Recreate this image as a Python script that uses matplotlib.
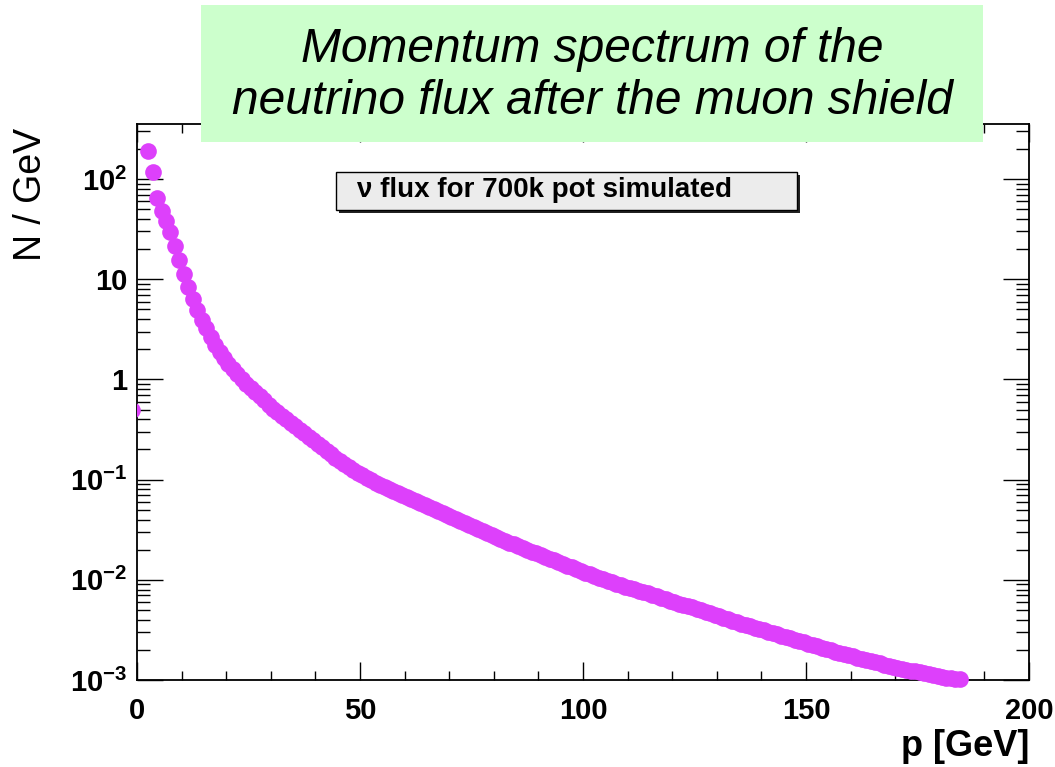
import numpy as np
import matplotlib
matplotlib.use("Agg")
import matplotlib.pyplot as plt
from matplotlib.patches import Rectangle
from matplotlib.ticker import MultipleLocator, LogLocator, FixedLocator, FixedFormatter, NullFormatter

plt.rcParams['font.family'] = ['Liberation Sans', 'DejaVu Sans']
plt.rcParams['mathtext.fontset'] = 'custom'
plt.rcParams['mathtext.rm'] = 'Liberation Sans:bold'
plt.rcParams['mathtext.it'] = 'Liberation Sans:bold'
plt.rcParams['mathtext.default'] = 'rm'

# ---------------------------------
# DATA
# ---------------------------------

# 1 GeV bins, first drawn bin centre at 2.5 GeV
p_first = 2.5
bin_width = 1.0

# log10(N / GeV) per bin, read on the log axis
log10_flux = [
    2.28, 2.07, 1.81, 1.68, 1.58, 1.47, 1.33, 1.19, 1.05, 0.92,
    0.80, 0.69, 0.59, 0.51, 0.42, 0.34, 0.27, 0.21, 0.15, 0.10,
    0.05, 0.00, -0.05, -0.09, -0.13, -0.17, -0.21, -0.25, -0.29, -0.325,
    -0.36, -0.395, -0.43, -0.465, -0.50, -0.535, -0.57, -0.605, -0.64, -0.675,
    -0.71, -0.745, -0.78, -0.815, -0.845, -0.875, -0.90, -0.93, -0.955, -0.98,
    -1.005, -1.03, -1.05, -1.07, -1.09, -1.11, -1.13, -1.15,
    -1.17, -1.19, -1.21, -1.23, -1.25, -1.27, -1.29, -1.31, -1.33, -1.35,
    -1.37, -1.39, -1.41, -1.43, -1.45, -1.47, -1.49, -1.51, -1.53, -1.55,
    -1.57, -1.59,
    -1.61, -1.63, -1.645, -1.665, -1.68, -1.70, -1.72, -1.735, -1.755, -1.77,
    -1.79, -1.805, -1.825, -1.84, -1.86, -1.875, -1.895, -1.91, -1.93, -1.945,
    -1.96, -1.98,
    -1.995, -2.01, -2.025, -2.04, -2.055, -2.07, -2.08, -2.095, -2.11, -2.12,
    -2.135, -2.15, -2.165, -2.18, -2.195, -2.21, -2.225, -2.24, -2.255, -2.265, -2.275,
    -2.29, -2.305, -2.32, -2.335, -2.35, -2.365, -2.38, -2.395, -2.41, -2.425, -2.44,
    -2.45, -2.465, -2.48, -2.49, -2.505, -2.52, -2.53, -2.545, -2.56, -2.57, -2.585,
    -2.60, -2.61, -2.625, -2.64, -2.65, -2.665, -2.68, -2.69, -2.705, -2.72, -2.73,
    -2.745, -2.755, -2.765, -2.78, -2.79, -2.80, -2.815, -2.825, -2.835, -2.85, -2.86,
    -2.87, -2.88, -2.89, -2.90, -2.91, -2.915, -2.925, -2.935, -2.945, -2.955,
    -2.965, -2.975, -2.98, -2.985, -2.99, -2.995,
]

# point cut by the left frame edge
edge_p = [-1.2]
edge_flux = [0.5]

y_tick_values = [1e-3, 1e-2, 1e-1, 1, 10, 100]
y_tick_labels = ['$10^{-3}$', '$10^{-2}$', '$10^{-1}$', '1', '10', '$10^{2}$']

title_text = "Momentum spectrum of the\nneutrino flux after the muon shield"
legend_text = "\u03bd flux for 700k pot simulated"

p = p_first + bin_width * np.arange(len(log10_flux))
flux = 10.0 ** np.array(log10_flux)

# ---------------------------------
# FIGURE
# ---------------------------------

W, H = 1055, 767
fig = plt.figure(figsize=(W / 100, H / 100), dpi=100)
ax = fig.add_axes([137 / W, 1 - 680 / H, (1029 - 137) / W, (680 - 124) / H])

col = '#dd40fb'
ax.plot(p, flux, 'o', ms=12, color=col, mec='none', clip_on=False, zorder=3)
ax.plot(edge_p, edge_flux, 'o', ms=12, color=col, mec='none', zorder=3)

ax.set_yscale('log')
ax.set_xlim(0, 200)
ax.set_ylim(1e-3, 10 ** 2.55)

ax.xaxis.set_major_locator(MultipleLocator(50))
ax.xaxis.set_minor_locator(MultipleLocator(10))
ax.yaxis.set_major_locator(FixedLocator(y_tick_values))
ax.yaxis.set_major_formatter(FixedFormatter(y_tick_labels))
ax.yaxis.set_minor_locator(LogLocator(base=10, subs=np.arange(2, 10)))
ax.yaxis.set_minor_formatter(NullFormatter())

ax.tick_params(which='both', direction='in', top=True, right=True, width=1.0, color='black')
ax.tick_params(axis='x', which='major', length=12.7, pad=12, labelsize=21)
ax.tick_params(axis='x', which='minor', length=6.3)
ax.tick_params(axis='y', which='major', length=18.7, pad=7, labelsize=21)
ax.tick_params(axis='y', which='minor', length=9.4)
for lab in ax.get_xticklabels() + ax.get_yticklabels():
    lab.set_fontweight('bold')

for s in ax.spines.values():
    s.set_linewidth(1.3)

# axis titles
fig.text(1029 / W, 1 - 746 / H, "p [GeV]", ha='right', va='center', fontsize=26, fontweight='bold')
fig.text(31 / W, 1 - 128 / H, "N / GeV", ha='center', va='top', rotation=90, fontsize=27)

# legend-like box with shadow
shadow = Rectangle((339 / W, 1 - 213 / H), (797 - 336) / W, (210 - 172) / H,
                   transform=fig.transFigure, facecolor='#222222', edgecolor='none', zorder=5)
box = Rectangle((336 / W, 1 - 210 / H), (797 - 336) / W, (210 - 172) / H,
                transform=fig.transFigure, facecolor='#ececec', edgecolor='black', lw=1.0, zorder=6)
fig.patches.extend([shadow, box])
fig.text(357 / W, 1 - 190 / H, legend_text, ha='left', va='center', fontsize=20,
         fontweight='bold', zorder=7)

# green title box on top of the frame
green = Rectangle((201 / W, 1 - 142 / H), (983 - 201) / W, (142 - 5) / H,
                  transform=fig.transFigure, facecolor='#ccffcc', edgecolor='none', zorder=8)
fig.patches.append(green)
fig.text(592 / W, 1 - 75 / H, title_text, ha='center', va='center', fontsize=34.5,
         fontstyle='italic', linespacing=1.2, zorder=9)

fig.savefig("out.png", dpi=100)
